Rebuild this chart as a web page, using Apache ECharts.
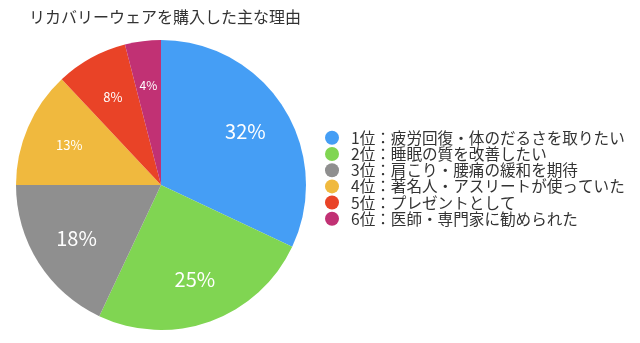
<!DOCTYPE html>
<html><head><meta charset="utf-8">
<script src="https://cdn.jsdelivr.net/npm/echarts@6/dist/echarts.min.js"></script>
<style>html,body{margin:0;padding:0;background:#fff}#c{width:640px;height:343px}</style>
</head><body><div id="c"></div>
<script>
var titleText = 'リカバリーウェアを購入した主な理由';
var categories = ['1位：疲労回復・体のだるさを取りたい','2位：睡眠の質を改善したい','3位：肩こり・腰痛の緩和を期待','4位：著名人・アスリートが使っていた','5位：プレゼントとして','6位：医師・専門家に勧められた'];
var values = [32, 25, 18, 13, 8, 4];
var colors = ['#459ef5','#80d552','#8f8f8f','#f0b93e','#e94327','#c13174'];
var labelSizes = [20, 20, 20, 13, 13, 12];
var FONT = '"Noto Sans CJK JP","Noto Sans",sans-serif';
var chart = echarts.init(document.getElementById('c'));
var baseData = categories.map(function(c,i){return {name:c,value:values[i],itemStyle:{color:colors[i]}};});
var labelData = categories.map(function(c,i){return {name:c,value:values[i],label:{fontSize:labelSizes[i]}};});
chart.setOption({
  animation:false,
  title:{text:titleText,left:24,top:4,textStyle:{fontFamily:FONT,fontSize:16,fontWeight:'normal',color:'#333'}},
  legend:{orient:'vertical',left:320,top:125,itemWidth:14,itemHeight:14,itemGap:0.6,icon:'circle',
    data:categories,
    textStyle:{fontFamily:FONT,fontSize:15.6,color:'#333',lineHeight:14,padding:[0,0,0,7]}},
  series:[
    {type:'pie',center:[161,185],radius:[0,145],startAngle:90,clockwise:true,silent:true,
     label:{show:false},labelLine:{show:false},data:baseData},
    {type:'pie',center:[161,185],radius:[50,144],startAngle:90,clockwise:true,silent:true,
     itemStyle:{color:'rgba(0,0,0,0)'},legendHoverLink:false,
     label:{show:true,position:'inside',color:'#fff',fontFamily:FONT,formatter:'{c}%'},
     labelLine:{show:false},data:labelData}
  ]
});
</script></body></html>
